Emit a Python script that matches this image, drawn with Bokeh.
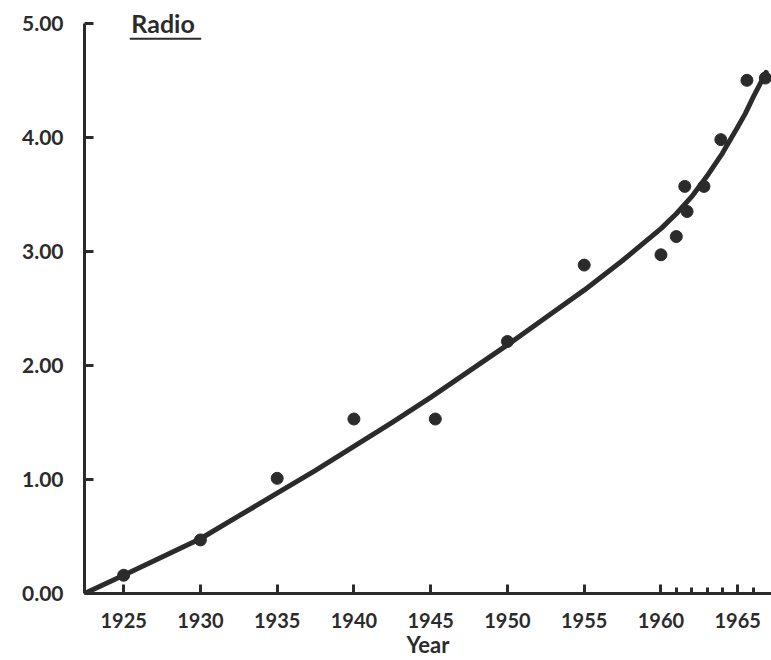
from bokeh.plotting import figure
from bokeh.models import FixedTicker, PrintfTickFormatter, Range1d, Label, BoxAnnotation
from bokeh.embed import file_html
from bokeh.resources import INLINE

# Observed data points (year, value)
point_years = [1925, 1930, 1935, 1940, 1945.3, 1950, 1955, 1960, 1961, 1961.7, 1961.55, 1962.8, 1963.9, 1965.6, 1966.8]
point_values = [0.16, 0.47, 1.01, 1.53, 1.53, 2.21, 2.88, 2.97, 3.13, 3.35, 3.57, 3.57, 3.98, 4.50, 4.52]

# Fitted trend curve
curve_years = [1922.45, 1925, 1927.5, 1930, 1932.5, 1935, 1937.5, 1940, 1942.5, 1945, 1947.5, 1950,
               1952.5, 1955, 1957.5, 1960, 1961, 1962, 1963, 1964, 1965, 1965.5, 1966, 1966.5, 1966.85]
curve_values = [0.0, 0.16, 0.32, 0.48, 0.68, 0.88, 1.08, 1.29, 1.50, 1.72, 1.95, 2.18,
                2.42, 2.66, 2.92, 3.20, 3.33, 3.48, 3.66, 3.86, 4.09, 4.21, 4.35, 4.48, 4.57]

x_major = [1925, 1930, 1935, 1940, 1945, 1950, 1955, 1960, 1965]
x_minor = [1961, 1962, 1963, 1964, 1966]
y_major = [0, 1, 2, 3, 4, 5]

ink = "#2b2b2b"
font = "Lato"

p = figure(width=771, height=660, output_backend="svg", toolbar_location=None,
           x_range=Range1d(1922.45, 1967.2), y_range=Range1d(0, 5.2),
           min_border_left=84, min_border_right=0, min_border_top=0, min_border_bottom=10)
p.outline_line_color = None
p.grid.visible = False
p.background_fill_color = "white"

p.line(curve_years, curve_values, line_width=5, line_color=ink, line_cap="round", line_join="round")
p.scatter(point_years, point_values, size=12, color=ink)

xa = p.xaxis[0]
xa.ticker = FixedTicker(ticks=x_major, minor_ticks=x_minor)
xa.axis_label = "Year"
xa.axis_label_text_font = font
xa.axis_label_text_font_size = "22px"
xa.axis_label_text_font_style = "bold"
xa.axis_label_text_color = ink
xa.axis_label_standoff = 0
xa.major_label_text_font = font
xa.major_label_text_font_size = "20px"
xa.major_label_text_font_style = "bold"
xa.major_label_text_color = ink
xa.major_label_standoff = 19
xa.axis_line_width = 3
xa.axis_line_color = ink
xa.major_tick_in = 9
xa.major_tick_out = 0
xa.major_tick_line_width = 3
xa.major_tick_line_color = ink
xa.minor_tick_in = 6
xa.minor_tick_out = 0
xa.minor_tick_line_width = 3
xa.minor_tick_line_color = ink

ya = p.yaxis[0]
ya.bounds = (0, 5)
ya.ticker = FixedTicker(ticks=y_major, minor_ticks=[])
ya.formatter = PrintfTickFormatter(format="%.2f")
ya.major_label_text_font = font
ya.major_label_text_font_size = "21px"
ya.major_label_text_font_style = "bold"
ya.major_label_text_color = ink
ya.major_label_standoff = 21
ya.axis_line_width = 3
ya.axis_line_color = ink
ya.major_tick_in = 9
ya.major_tick_out = 0
ya.major_tick_line_width = 3
ya.major_tick_line_color = ink
ya.minor_tick_line_color = None

title = Label(x=1925.5, y=4.872, text="Radio", text_font=font, text_font_size="25px",
              text_font_style="bold", text_color=ink, text_baseline="bottom")
p.add_layout(title)
p.add_layout(BoxAnnotation(left=1925.4, right=1930.05, bottom=4.855, top=4.874,
                           fill_color=ink, fill_alpha=1.0, line_color=None))

open("out.html", "w").write(file_html(p, INLINE))
